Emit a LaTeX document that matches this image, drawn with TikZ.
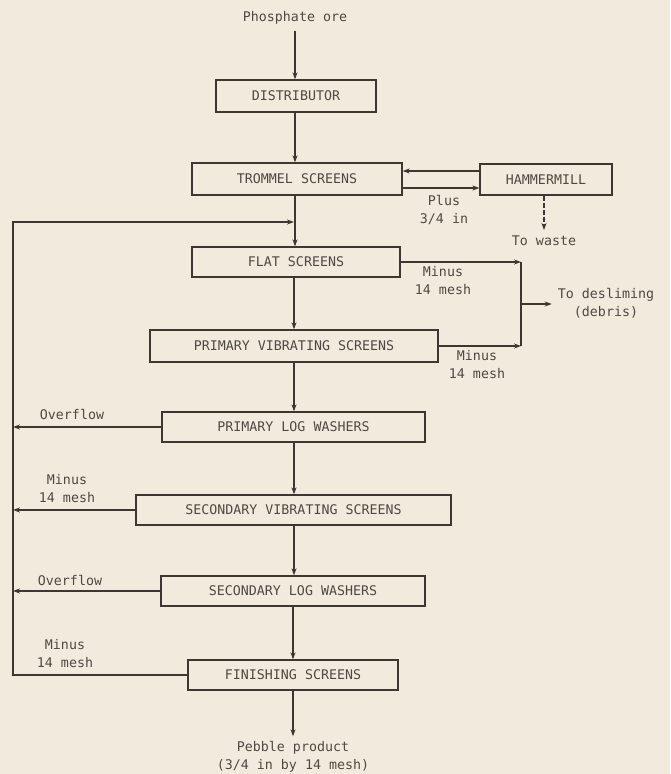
\documentclass[tikz,border=0pt]{standalone}
\usepackage{fontspec}
\setmonofont{DejaVu Sans Mono}
\usetikzlibrary{arrows.meta,calc}
\definecolor{paper}{HTML}{F1EADD}
\definecolor{ink}{HTML}{3C3732}
\definecolor{txt}{HTML}{4E4944}
\tikzset{
  box/.style={draw=ink, line width=1.3pt, rectangle, inner sep=0pt, text=txt,
    font=\ttfamily\fontsize{13.3}{18}\selectfont},
  lbl/.style={text=txt, inner sep=0pt, align=center,
    font=\ttfamily\fontsize{13.3}{18}\selectfont},
  flow/.style={draw=ink, line width=1.3pt, -{Stealth[length=7pt,width=5pt]}},
  plain/.style={draw=ink, line width=1.3pt},
}
\begin{document}
\begin{tikzpicture}[x=1pt,y=-1pt]
\fill[paper] (0,0) rectangle (670,774);
\useasboundingbox (0,0) rectangle (670,774);

% labels
\node[lbl] (ore) at (295,18) {Phosphate ore};
\node[lbl] (prod) at (293,757) {Pebble product\\(3/4 in by 14 mesh)};
\node[lbl] (waste) at (544,241) {To waste};
\node[lbl] (desl) at (606,303.5) {To desliming\\(debris)};

% boxes
\node[box, minimum width=160pt, minimum height=32pt] (dist) at (296,96) {DISTRIBUTOR};
\node[box, minimum width=210pt, minimum height=32pt] (trom) at (297,179) {TROMMEL SCREENS};
\node[box, minimum width=132pt, minimum height=31pt] (ham) at (546,179.5) {HAMMERMILL};
\node[box, minimum width=208pt, minimum height=30pt] (flat) at (296,262) {FLAT SCREENS};
\node[box, minimum width=288pt, minimum height=32pt] (pvib) at (294,346) {PRIMARY VIBRATING SCREENS};
\node[box, minimum width=263pt, minimum height=30pt] (plog) at (293.5,427) {PRIMARY LOG WASHERS};
\node[box, minimum width=315pt, minimum height=30pt] (svib) at (293.5,510) {SECONDARY VIBRATING SCREENS};
\node[box, minimum width=264pt, minimum height=30pt] (slog) at (293,591) {SECONDARY LOG WASHERS};
\node[box, minimum width=210pt, minimum height=30pt] (fin) at (293,675) {FINISHING SCREENS};

% coordinates
\coordinate (mx) at (294,0);
\coordinate (rx) at (521,0);
\coordinate (lx) at (13,0);
\coordinate (ybk) at (0,171);
\coordinate (yfw) at (0,188);
\coordinate (loopTop) at (13,222);
\coordinate (loopBot) at (13,675);
\coordinate (dsplit) at (521,304);
\coordinate (wasteEnd) at (544,230);

% main flow
\draw[flow] ($(ore.south)+(0,6)$) -- (dist.north -| ore);
\draw[flow] (dist.south -| ore) -- (trom.north -| ore);
\draw[flow] (trom.south -| ore) -- (flat.north -| ore);
\draw[flow] (flat.south -| mx) -- (pvib.north -| mx);
\draw[flow] (pvib.south -| mx) -- (plog.north -| mx);
\draw[flow] (plog.south -| mx) -- (svib.north -| mx);
\draw[flow] (svib.south -| mx) -- (slog.north -| mx);
\draw[flow] (slog.south -| fin) -- (fin.north);
\draw[flow] (fin.south) -- ($(prod.north)+(0,-5)$);

% trommel <-> hammermill
\draw[flow] (ham.west |- ybk) -- (trom.east |- ybk);
\draw[flow] (trom.east |- yfw) -- (ham.west |- yfw);
\node[lbl] (plus) at (444,210) {Plus\\3/4 in};
\draw[plain, dash pattern=on 5pt off 2pt, -{Stealth[length=7pt,width=5pt]}] (ham.south -| wasteEnd) -- (wasteEnd);

% to desliming
\draw[flow] (flat.east) -- (flat.east -| rx);
\draw[flow] (pvib.east) -- (pvib.east -| rx);
\draw[plain] (flat.east -| rx) -- (pvib.east -| rx);
\draw[flow] (dsplit) -- ($(desl.west |- dsplit)+(-6,0)$);
\node[lbl] (m1) at (443,281) {Minus\\14 mesh};
\node[lbl] (m2) at (477,364.5) {Minus\\14 mesh};

% recycle loop
\draw[flow] (plog.west) -- (plog.west -| lx);
\draw[flow] (svib.west) -- (svib.west -| lx);
\draw[flow] (slog.west) -- (slog.west -| lx);
\draw[flow] (fin.west) -- (loopBot) -- (loopTop) -- (loopTop -| mx);
\fill[ink] (loopBot) circle (1.3pt);
\node[lbl] (of1) at (72,414) {Overflow};
\node[lbl] (m3) at (67,489) {Minus\\14 mesh};
\node[lbl] (of2) at (70,580) {Overflow};
\node[lbl] (m4) at (65,653.5) {Minus\\14 mesh};
\end{tikzpicture}
\end{document}
